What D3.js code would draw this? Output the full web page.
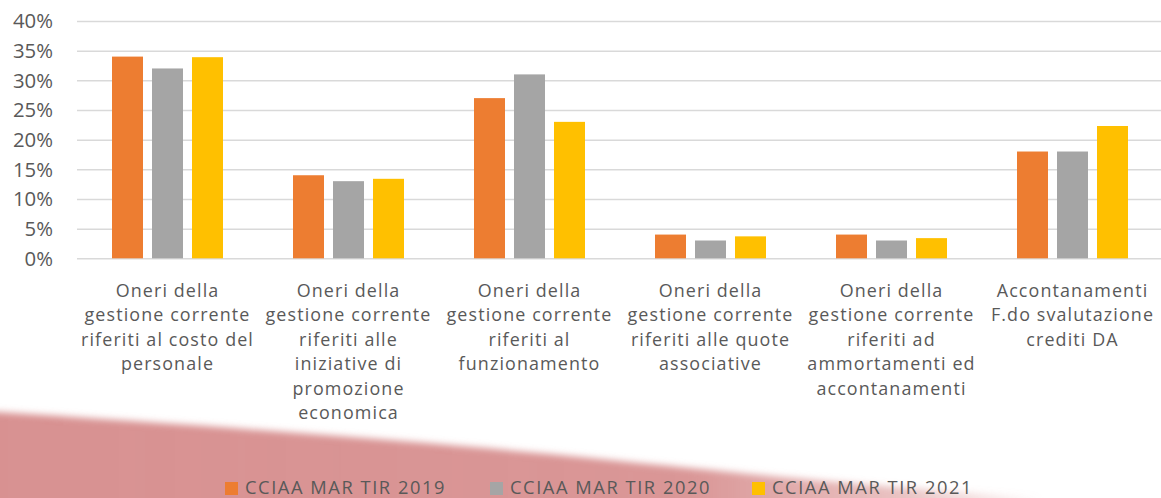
<!DOCTYPE html>
<html><head><meta charset="utf-8">
<script src="https://cdn.jsdelivr.net/npm/d3@7/dist/d3.min.js"></script>
<style>html,body{margin:0;padding:0;background:#fff;overflow:hidden}svg{display:block}</style>
</head><body><svg id="c" width="1161" height="498"></svg>
<script>
const categories = [
  ["Oneri della","gestione corrente","riferiti al costo del","personale"],
  ["Oneri della","gestione corrente","riferiti alle","iniziative di","promozione","economica"],
  ["Oneri della","gestione corrente","riferiti al","funzionamento"],
  ["Oneri della","gestione corrente","riferiti alle quote","associative"],
  ["Oneri della","gestione corrente","riferiti ad","ammortamenti ed","accontanamenti"],
  ["Accontanamenti","F.do svalutazione","crediti DA"]
];
const seriesNames = ["CCIAA MAR TIR 2019","CCIAA MAR TIR 2020","CCIAA MAR TIR 2021"];
const values2019 = [34.0, 14.0, 27.0, 4.0, 4.0, 18.0];
const values2020 = [32.0, 13.0, 31.0, 3.0, 3.0, 18.0];
const values2021 = [33.9, 13.4, 23.0, 3.7, 3.4, 22.3];
const tickValues = [0,5,10,15,20,25,30,35,40];
const colors = ["#ED7D31","#A5A5A5","#FFC000"];

const series = [values2019, values2020, values2021];
const svg = d3.select("#c");
const FONT = "'Open Sans', 'Liberation Sans', sans-serif";
const TEXT = "#595959";

function measure(str, size){
  const t = svg.append("text").attr("font-family",FONT).attr("font-size",size).text(str);
  const w = t.node().getComputedTextLength(); t.remove();
  return w;
}
const labelSize = 17.9;
const labelSpacing = Math.max(0, (166 - measure("gestione corrente", labelSize)) / 17);
const legendSize = 18.3;
const legendSpacing = Math.max(0, (201 - measure("CCIAA MAR TIR 2019", legendSize)) / 18);
const tickSize = 100*40/measure("40%",100);

// background swoosh
const defs = svg.append("defs");
const grad = defs.append("linearGradient").attr("id","sw").attr("x1","0").attr("x2","1").attr("y1","0").attr("y2","0");
grad.append("stop").attr("offset","0").attr("stop-color","#D89191").attr("stop-opacity",1);
grad.append("stop").attr("offset","0.6").attr("stop-color","#D89191").attr("stop-opacity",0.95);
grad.append("stop").attr("offset","0.78").attr("stop-color","#D89191").attr("stop-opacity",0.55);
grad.append("stop").attr("offset","0.9").attr("stop-color","#D89191").attr("stop-opacity",0);
const blur = defs.append("filter").attr("id","bl").attr("x","-0.1").attr("y","-0.3").attr("width","1.2").attr("height","1.6");
blur.append("feGaussianBlur").attr("stdDeviation","3.5");
svg.append("path")
  .attr("d","M-20,411 C200,425 420,441 600,459 C760,475 900,490 1161,505 L1161,530 L-20,530 Z")
  .attr("fill","url(#sw)").attr("filter","url(#bl)");

// scales
const x0 = d3.scaleBand().domain(d3.range(categories.length)).range([77,1163]).padding(0);
const x1 = d3.scaleBand().domain(d3.range(series.length)).range([35,146]).paddingInner(0.225).paddingOuter(0);
const y = d3.scaleLinear().domain([0,40]).range([258.3,21]);

// gridlines via axis
const gAxis = svg.append("g").attr("transform","translate(77,0)")
  .call(d3.axisLeft(y).tickValues(tickValues).tickSize(-1086).tickFormat(d=>d+"%"));
gAxis.select(".domain").remove();
gAxis.selectAll(".tick line").attr("stroke","#D9D9D9").attr("stroke-width",1.5);
gAxis.selectAll(".tick text").attr("x",-24).attr("fill",TEXT)
  .attr("font-family",FONT).attr("font-size",tickSize).attr("dy","0.34em");

// bars
const groups = svg.append("g").selectAll("g").data(categories).join("g")
  .attr("transform",(d,i)=>`translate(${x0(i)},0)`);
groups.selectAll("rect").data((d,i)=>series.map((s,j)=>({j, v:s[i]}))).join("rect")
  .attr("x",d=>x1(d.j)).attr("width",x1.bandwidth())
  .attr("y",d=>y(d.v)).attr("height",d=>y(0)-y(d.v))
  .attr("fill",d=>colors[d.j]);

// category labels
const lab = svg.append("g").selectAll("text").data(categories).join("text")
  .attr("text-anchor","middle").attr("fill",TEXT)
  .attr("font-family",FONT).attr("font-size",labelSize)
  .attr("letter-spacing",labelSpacing)
  .attr("transform",(d,i)=>`translate(${x0(i)+x0.bandwidth()/2},296.5)`);
lab.selectAll("tspan").data(d=>d).join("tspan")
  .attr("x",0).attr("y",(d,k)=>k*24.5).text(d=>d);

// legend
const legendX = [225, 490, 752];
const leg = svg.append("g");
seriesNames.forEach((name,j)=>{
  leg.append("rect").attr("x",legendX[j]).attr("y",482).attr("width",13).attr("height",13).attr("fill",colors[j]);
  leg.append("text").attr("x",legendX[j]+20).attr("y",494).attr("fill",TEXT)
    .attr("font-family",FONT).attr("font-size",legendSize)
    .attr("letter-spacing",legendSpacing).text(name);
});
</script>
</body></html>
